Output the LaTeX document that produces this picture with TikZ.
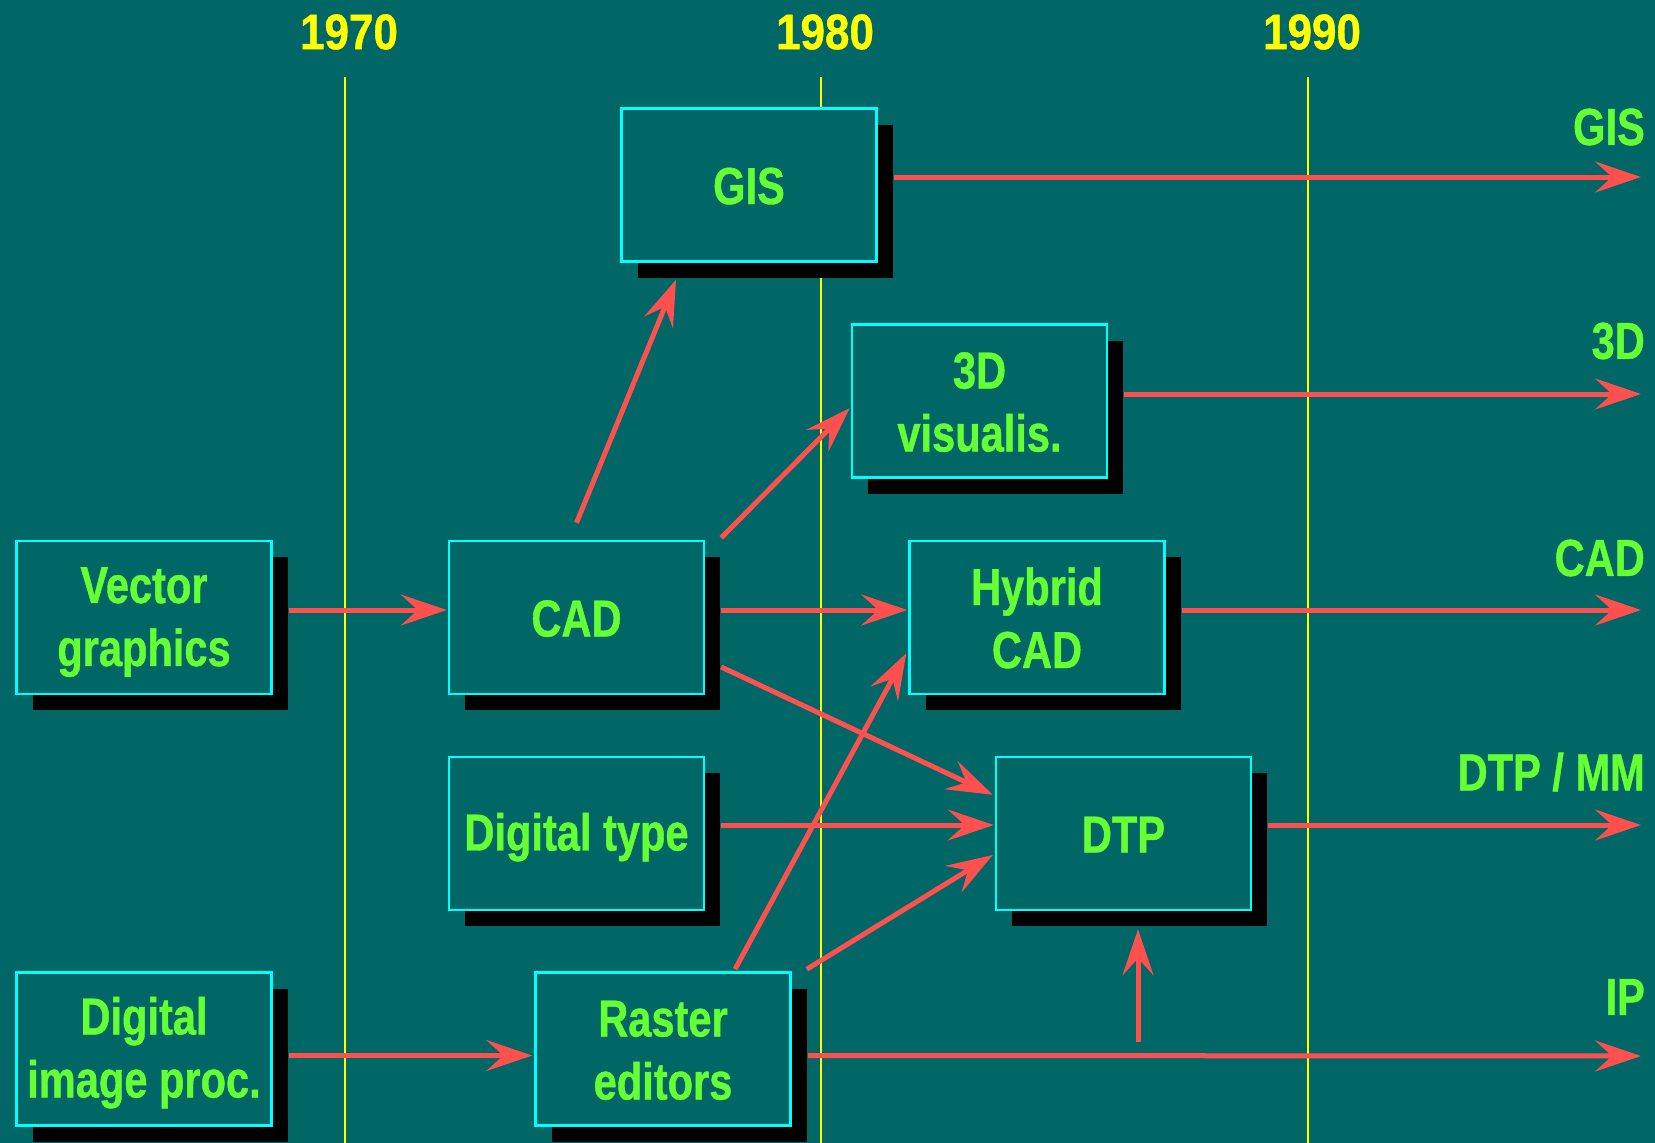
\documentclass[tikz,border=0pt]{standalone}
\usepackage{fontspec}
\newfontfamily\cond[FakeStretch=0.8,FakeBold=0.8]{Liberation Sans}
\newfontfamily\condy[FakeStretch=0.88,FakeBold=0.8]{Liberation Sans}
\usetikzlibrary{arrows.meta,shadows}
\definecolor{bg}{RGB}{0,102,102}
\definecolor{boxline}{RGB}{0,255,255}
\definecolor{txt}{RGB}{102,255,51}
\definecolor{arr}{RGB}{255,80,80}
\definecolor{yl}{RGB}{255,255,0}
\newcommand\st{\rule[-7pt]{0pt}{52pt}}
\begin{document}
\begin{tikzpicture}[x=1pt,y=-1pt,
  box/.style={draw=boxline,line width=2.5pt,fill=bg,minimum width=255pt,minimum height=153pt,
    inner sep=0pt,align=center,text=txt,font=\cond\bfseries\fontsize{52}{63}\selectfont,
    drop shadow={shadow xshift=16pt,shadow yshift=-16pt,fill=black,opacity=1}},
  lbl/.style={text=txt,font=\cond\bfseries\fontsize{52}{63}\selectfont,inner sep=0pt},
  year/.style={text=yl,font=\condy\bfseries\fontsize{50}{60}\selectfont,inner sep=0pt},
  yline/.style={draw=yl,line width=2pt},
  conn/.style={draw=arr,line width=5pt,-{Stealth[length=46pt,width=31pt,inset=17pt]}}]
\useasboundingbox (0,0) rectangle (1655,1143);
\fill[bg] (0,0) rectangle (1655,1143);
% year lines
\node[year] (y70) at (349,32) {1970};
\node[year] (y80) at (825,32) {1980};
\node[year] (y90) at (1312,32) {1990};
\coordinate (l70) at (345,1143);
\coordinate (l80) at (821,1143);
\coordinate (l90) at (1308,1143);
\draw[yline] (345,77) -- (l70);
\draw[yline] (821,77) -- (l80);
\draw[yline] (1308,77) -- (l90);
% boxes
\node[box] (gis) at (749,185) {\st GIS};
\node[box] (viz) at (979.5,401) {\st 3D\\\st visualis.};
\node[box] (vg) at (144,617.5) {\st Vector\\\st graphics};
\node[box] (cad) at (576.5,617.5) {\st CAD};
\node[box] (hyb) at (1037,617.5) {\st Hybrid\\\st CAD};
\node[box] (dtype) at (576.5,833.5) {\st Digital type};
\node[box] (dtp) at (1123.5,833.5) {\st DTP};
\node[box] (dip) at (144,1049) {\st Digital\\\st image proc.};
\node[box] (rast) at (663,1049) {\st Raster\\\st editors};
% right labels
\node[lbl,anchor=east] (tgis) at (1645,127) {GIS};
\node[lbl,anchor=east] (t3d) at (1645,341) {3D};
\node[lbl,anchor=east] (tcad) at (1645,558) {CAD};
\node[lbl,anchor=east] (tdtp) at (1645,772) {DTP / MM};
\node[lbl,anchor=east] (tip) at (1645,997) {IP};
\coordinate (gisE) at (1641,177);
\coordinate (vizE) at (1641,394);
\coordinate (cadE) at (1641,610);
\coordinate (dtpE) at (1641,825);
\coordinate (ipE) at (1641,1056);
\coordinate (up0) at (1138,1042);
% connectors
\draw[conn] ([xshift=16pt,yshift=8pt]gis.east) -- (gisE);
\draw[conn] ([xshift=16pt,yshift=7pt]viz.east) -- (vizE);
\draw[conn] ([xshift=16pt,yshift=7.5pt]hyb.east) -- (cadE);
\draw[conn] ([xshift=16pt,yshift=8.5pt]dtp.east) -- (dtpE);
\draw[conn] ([xshift=16pt,yshift=-6.5pt]rast.east) -- (ipE);
\draw[conn] ([xshift=16pt,yshift=7.5pt]vg.east) -- ([xshift=-1pt,yshift=7.5pt]cad.west);
\draw[conn] ([xshift=16pt,yshift=7.5pt]cad.east) -- ([xshift=-1pt,yshift=7.5pt]hyb.west);
\draw[conn] ([xshift=16pt,yshift=8.5pt]dtype.east) -- ([xshift=-1pt,yshift=8.5pt]dtp.west);
\draw[conn] ([xshift=16pt,yshift=-6.5pt]dip.east) -- ([xshift=-2pt,yshift=-6.5pt]rast.west);
\draw[conn] ([yshift=17pt]cad.north) -- ([xshift=-73pt,yshift=-17pt]gis.south);
\draw[conn] ([xshift=16pt,yshift=2pt]cad.north east) -- ([xshift=-1pt,yshift=-7pt]viz.west);
\draw[conn] ([xshift=16pt,yshift=-49.5pt]cad.east) -- ([xshift=-2pt,yshift=-39pt]dtp.north west);
\draw[conn] ([xshift=72pt,yshift=2pt]rast.north) -- ([xshift=-2pt,yshift=42pt]hyb.south west);
\draw[conn] ([xshift=15pt,yshift=2pt]rast.north east) -- ([xshift=-2pt,yshift=-21.5pt]dtp.west);
\draw[conn] (up0) -- ([xshift=14.5pt,yshift=-18pt]dtp.south);
\end{tikzpicture}
\end{document}
